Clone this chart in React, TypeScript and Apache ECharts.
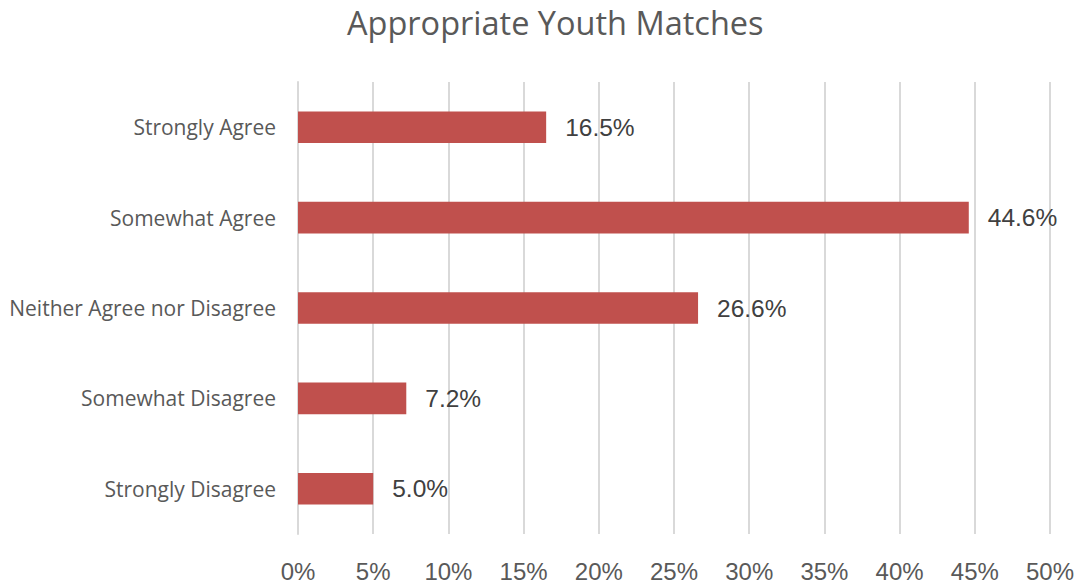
import React, { useEffect, useRef } from "react";
import * as echarts from "echarts";

const title = "Appropriate Youth Matches";
const categories = [
  "Strongly Agree",
  "Somewhat Agree",
  "Neither Agree nor Disagree",
  "Somewhat Disagree",
  "Strongly Disagree",
];
const values = [16.5, 44.6, 26.6, 7.2, 5.0];

export default function App() {
  const ref = useRef<HTMLDivElement>(null);
  useEffect(() => {
    if (!ref.current) return;
    const chart = echarts.init(ref.current, null, { renderer: "svg" });
    chart.setOption({
      animation: false,
      backgroundColor: "#ffffff",
      title: {
        text: title,
        left: 342,
        top: 1,
        textStyle: {
          fontFamily: "Open Sans",
          fontSize: 32.5,
          fontWeight: "normal",
          color: "#595959",
        },
      },
      grid: { left: 298, right: 33, top: 82, bottom: 54, containLabel: false },
      xAxis: {
        type: "value",
        min: 0,
        max: 50,
        interval: 5,
        axisLine: { show: false },
        axisTick: { show: false },
        splitLine: { show: true, lineStyle: { color: "#d9d9d9", width: 2 } },
        axisLabel: {
          formatter: "{value}%",
          fontFamily: "Liberation Sans",
          fontSize: 24,
          color: "#595959",
          margin: 25,
        },
      },
      yAxis: {
        type: "category",
        data: categories,
        inverse: true,
        axisLine: { show: true, lineStyle: { color: "#d9d9d9", width: 2 } },
        axisTick: { show: false },
        axisLabel: {
          fontFamily: "Open Sans",
          fontSize: 21,
          color: "#595959",
          margin: 22,
        },
      },
      series: [
        {
          type: "bar",
          data: values,
          barWidth: "35%",
          itemStyle: { color: "#C0504D" },
          label: {
            show: true,
            position: "right",
            distance: 19,
            formatter: (p: any) => p.value.toFixed(1) + "%",
            fontFamily: "Liberation Sans",
            fontSize: 24.5,
            color: "#404040",
          },
        },
      ],
    });
    return () => chart.dispose();
  }, []);
  return (
    <div
      ref={ref}
      style={{ position: "absolute", left: 0, top: 0, width: 1083, height: 588 }}
    />
  );
}
